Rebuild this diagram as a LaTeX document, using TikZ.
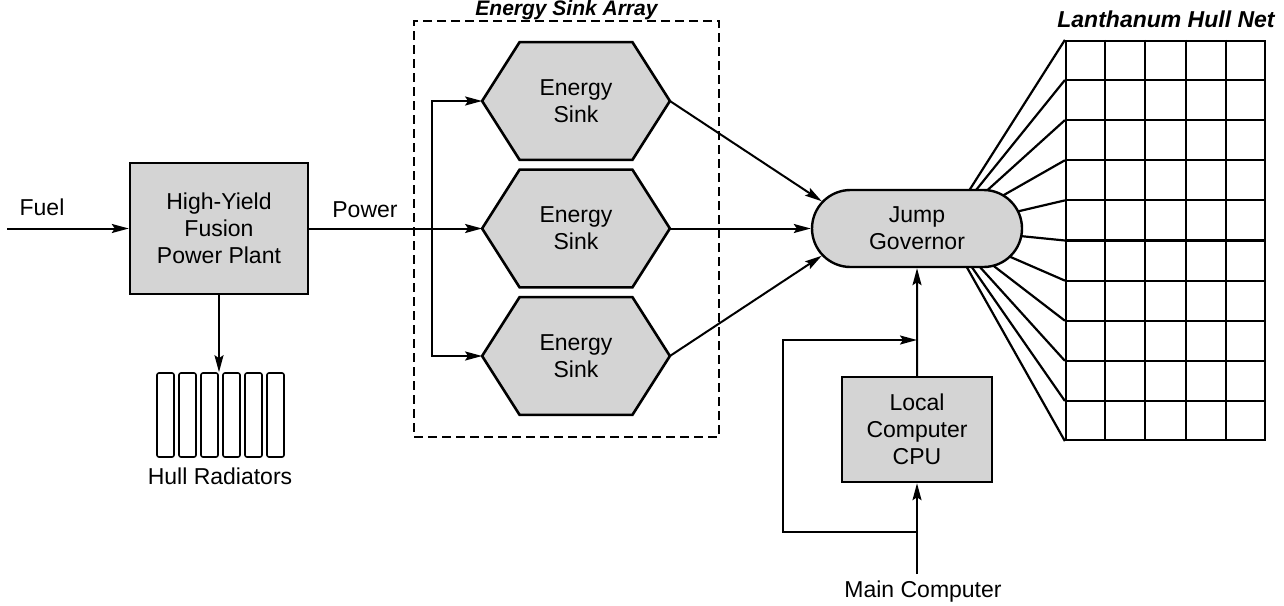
\documentclass[tikz,border=0pt]{standalone}
\usepackage{fontspec}
\setmainfont{Liberation Sans}
\usepackage{tikz}
\usetikzlibrary{arrows.meta,shapes.misc,backgrounds,calc}
\definecolor{stipple}{RGB}{212,212,212}

\tikzset{
  flow/.style={line width=1pt, -{Stealth[length=8.5pt,width=4.5pt,inset=1.5pt]}},
  wire/.style={line width=1pt},
  unit/.style={draw, line width=1.2pt, fill=stipple, align=center, inner sep=0pt},
  sinkbox/.style={align=center, inner sep=0pt, minimum width=93.5pt, minimum height=58.5pt},
  hexedge/.style={draw, line width=1.3pt, fill=stipple, line join=miter},
  fin/.style={draw, line width=0.8pt, rounded corners=1pt, minimum width=8.5pt, minimum height=42pt, inner sep=0pt},
  arraybox/.style={draw, line width=0.9pt, dash pattern=on 4.5pt off 2.5pt, minimum width=152.5pt, minimum height=208pt, inner sep=0pt},
  netline/.style={line width=1.1pt},
  title/.style={font=\fontsize{11.5}{13.5}\selectfont\bfseries\itshape}
}

\begin{document}
\begin{tikzpicture}[x=0.5pt, y=-0.5pt, font=\fontsize{11.5}{13.5}\selectfont]
    \useasboundingbox (0,0) rectangle (1284,605);

    % power side
    \node[unit, minimum width=89pt, minimum height=65.5pt] (plant) at (219,228.5) {High-Yield\\Fusion\\Power Plant};
    \coordinate (fuelin) at (7,228.5);
    \node (fuel) at (42,207) {Fuel};
    \node (power) at (365,210) {Power};
    \draw[flow] (fuelin) -- (plant);

    \foreach \i in {0,...,5}
        \node[fin] (fin\i) at ({165.5+22*\i},415) {};
    \node (radlabel) at (220,476) {Hull Radiators};
    \draw[flow] (plant.south) -- (plant.south |- fin0.north);

    % sink array
    \node[arraybox] (array) at (566.5,229) {};
    \node[title, font=\fontsize{10.5}{12.5}\selectfont\bfseries\itshape, anchor=base] (arraylabel) at (566.5,15.5) {Energy Sink Array};
    \node[sinkbox] (sink1) at (576,101) {Energy\\Sink};
    \node[sinkbox] (sink2) at (576,228.5) {Energy\\Sink};
    \node[sinkbox] (sink3) at (576,356) {Energy\\Sink};
    \begin{scope}[on background layer]
        \foreach \s in {sink1,sink2,sink3}
            \path[hexedge] (\s.west) -- ([xshift=18.75pt]\s.north west) -- ([xshift=-18.75pt]\s.north east)
                -- (\s.east) -- ([xshift=-18.75pt]\s.south east) -- ([xshift=18.75pt]\s.south west) -- cycle;
    \end{scope}

    \coordinate (bus) at (432,228.5);
    \draw[wire] (plant) -- (bus);
    \draw[flow] (bus) -- (sink2);
    \draw[flow] (bus) |- (sink1);
    \draw[flow] (bus) |- (sink3);

    % governor and computers
    \node[unit, rounded rectangle, minimum width=105pt, minimum height=38.5pt] (gov) at (917,228.5) {Jump\\Governor};
    \node[unit, minimum width=75pt, minimum height=52.5pt] (cpu) at (917,429.5) {Local\\Computer\\CPU};
    \node (main) at (923,592) {Main Computer};
    \draw[flow] (sink1.east) -- (gov.164);
    \draw[flow] (sink2) -- (gov);
    \draw[flow] (sink3.east) -- (gov.196);

    \coordinate (tap) at (917,340);
    \coordinate (feed) at (917,532);
    \draw[flow] (cpu) -- (gov);
    \draw[flow] (cpu.south |- main.north) -- (cpu);
    \draw[flow] (feed) -- ++(-134,0) |- (tap);

    % hull net
    \node[draw, netline, minimum width=99.5pt, minimum height=199.5pt, inner sep=0pt] (net) at (1165.5,240.5) {};
    \node[title, anchor=base] (netlabel) at (1166,27) {Lanthanum Hull Net};
    \foreach \i in {1,...,4}
        \draw[netline] ($(net.north west)!\i/5!(net.north east)$) -- ($(net.south west)!\i/5!(net.south east)$);
    \foreach \j in {1,...,9}
        \draw[netline] ($(net.north west)!\j/10!(net.south west)$) -- ($(net.north east)!\j/10!(net.south east)$);

    \coordinate (fan) at (945,228.5);
    \begin{scope}[on background layer]
        \foreach \j in {0,...,10}
            \draw[netline] (fan) -- ($(net.north west)!\j/10!(net.south west)$);
    \end{scope}
\end{tikzpicture}
\end{document}
